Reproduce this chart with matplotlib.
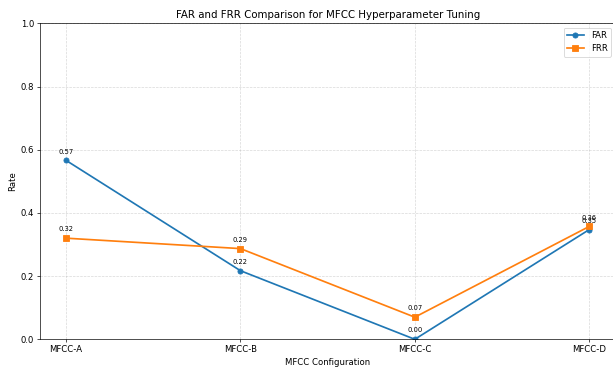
import matplotlib
matplotlib.use('Agg')
import matplotlib.pyplot as plt

configs = ['MFCC-A', 'MFCC-B', 'MFCC-C', 'MFCC-D']
far = [0.566, 0.217, 0.0, 0.347]
frr = [0.320, 0.287, 0.070, 0.357]

# original was ~1000 px wide, shown scaled down to 613 px
dpi = 61.3
fig = plt.figure(figsize=(613 / dpi, 369 / dpi), dpi=dpi)
ax = fig.add_axes([40 / 613, (369 - 339.3) / 369, 575.3 / 613, 316.0 / 369])

ax.plot(configs, far, marker='o', linewidth=2, label='FAR')
ax.plot(configs, frr, marker='s', linewidth=2, label='FRR')

for i, v in enumerate(far):
    ax.annotate(f'{v:.2f}', (i, v), textcoords='offset points', xytext=(0, 8),
                ha='center', fontsize=8)
for i, v in enumerate(frr):
    ax.annotate(f'{v:.2f}', (i, v), textcoords='offset points', xytext=(0, 8),
                ha='center', fontsize=8)

ax.set_ylim(0, 1)
ax.set_xlabel('MFCC Configuration')
ax.set_ylabel('Rate')
ax.set_title('FAR and FRR Comparison for MFCC Hyperparameter Tuning')
ax.legend(loc='upper right')
ax.grid(True, linestyle='--', alpha=0.5)

fig.savefig('out.png', dpi=dpi)
